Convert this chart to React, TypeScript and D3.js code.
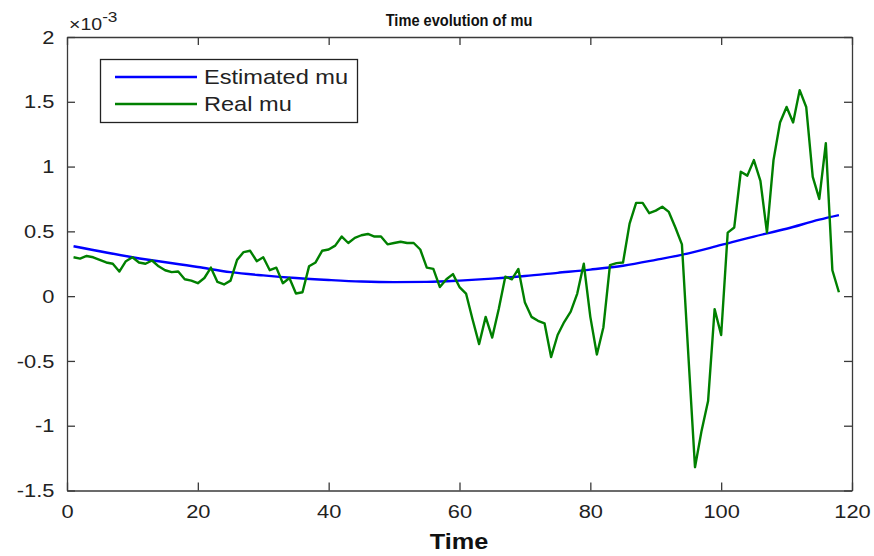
import * as d3 from 'd3'
import { FC, useRef, useEffect } from 'react'

// values are in units of 1e-3
const realMu: number[] = [
    0.30, 0.29, 0.31, 0.30, 0.28, 0.26, 0.25, 0.19, 0.27, 0.30,
    0.26, 0.25, 0.275, 0.23, 0.20, 0.185, 0.19, 0.13, 0.12, 0.10,
    0.14, 0.22, 0.11, 0.09, 0.12, 0.28, 0.34, 0.35, 0.27, 0.30,
    0.20, 0.22, 0.10, 0.14, 0.02, 0.03, 0.23, 0.26, 0.35, 0.36,
    0.39, 0.46, 0.41, 0.45, 0.47, 0.48, 0.46, 0.46, 0.40, 0.41,
    0.42, 0.41, 0.41, 0.36, 0.22, 0.21, 0.07, 0.13, 0.17, 0.07,
    0.02, -0.18, -0.37, -0.16, -0.32, -0.10, 0.15, 0.13, 0.21, -0.05,
    -0.16, -0.19, -0.21, -0.47, -0.30, -0.20, -0.12, 0.02, 0.25, -0.16,
    -0.45, -0.24, 0.24, 0.255, 0.26, 0.56, 0.72, 0.72, 0.64, 0.66,
    0.69, 0.65, 0.53, 0.40, -0.47, -1.32, -1.04, -0.81, -0.10, -0.30,
    0.49, 0.53, 0.96, 0.93, 1.05, 0.89, 0.49, 1.05, 1.34, 1.46,
    1.34, 1.59, 1.46, 0.92, 0.75, 1.18, 0.20, 0.03,
]

const estTime: number[] = [1, 10, 20, 25, 30, 35, 40, 45, 50, 55, 60, 65, 70, 75, 80, 85, 90, 95, 100, 105, 110, 115, 118]
const estMu: number[] = [0.385, 0.30, 0.225, 0.185, 0.16, 0.14, 0.125, 0.113, 0.108, 0.11, 0.12, 0.135, 0.155, 0.18, 0.205, 0.235, 0.28, 0.33, 0.395, 0.46, 0.52, 0.59, 0.625]

const xTicks: number[] = [0, 20, 40, 60, 80, 100, 120]
const yTicks: number[] = [-1.5, -1, -0.5, 0, 0.5, 1, 1.5, 2]
const legendLabels: string[] = ['Estimated mu', 'Real mu']

const FONT = '"Liberation Sans", Arial, Helvetica, sans-serif'
const STRETCH = 1.15

const App: FC = () => {
    const dimensions = { width: 874, height: 556 }
    const svgRef = useRef<SVGSVGElement>(null)

    useEffect(() => {
        const svg = d3.select(svgRef.current)
        svg.selectAll('*').remove()

        const x = d3.scaleLinear().domain([0, 120]).range([67, 852])
        const y = d3.scaleLinear().domain([-1.5, 2]).range([490.5, 37])
        const axisColor = '#3a3a3a'

        svg.append('rect')
            .attr('width', dimensions.width)
            .attr('height', dimensions.height)
            .attr('fill', '#fff')

        const styleAxis = (g: any, labels: boolean) => {
            g.select('.domain').attr('stroke', axisColor).attr('stroke-width', 1.3)
            g.selectAll('.tick line').attr('stroke', axisColor).attr('stroke-width', 1.3)
            g.selectAll('.tick text')
                .attr('fill', labels ? '#222' : 'none')
                .attr('font-family', FONT)
                .attr('font-size', 19)
        }

        // bottom
        const bottom = svg.append('g')
            .attr('transform', `translate(0,${y(-1.5)})`)
            .call(d3.axisBottom(x).tickValues(xTicks).tickSizeInner(-8).tickSizeOuter(0).tickPadding(14)
                .tickFormat(d3.format('d')))
        styleAxis(bottom, true)
        bottom.selectAll('.tick text').attr('transform', `scale(${STRETCH},1)`)

        // left
        const left = svg.append('g')
            .attr('transform', `translate(${x(0)},0)`)
            .call(d3.axisLeft(y).tickValues(yTicks).tickSizeInner(-8).tickSizeOuter(0).tickPadding(11)
                .tickFormat((d: any) => `${d}`))
        styleAxis(left, true)
        left.selectAll('.tick text').attr('transform', `scale(${STRETCH},1)`)

        // top and right, no labels
        const top = svg.append('g')
            .attr('transform', `translate(0,${y(2)})`)
            .call(d3.axisTop(x).tickValues(xTicks).tickSizeInner(-8).tickSizeOuter(0).tickFormat(() => ''))
        styleAxis(top, false)
        const right = svg.append('g')
            .attr('transform', `translate(${x(120)},0)`)
            .call(d3.axisRight(y).tickValues(yTicks).tickSizeInner(-8).tickSizeOuter(0).tickFormat(() => ''))
        styleAxis(right, false)

        // lines
        const estData = estTime.map((t, i) => [t, estMu[i]] as [number, number])
        const realData = realMu.map((v, i) => [i + 1, v] as [number, number])

        const smooth = d3.line<[number, number]>()
            .x(d => x(d[0]))
            .y(d => y(d[1]))
            .curve(d3.curveMonotoneX)
        const straight = d3.line<[number, number]>()
            .x(d => x(d[0]))
            .y(d => y(d[1]))

        svg.append('path')
            .attr('d', smooth(estData))
            .attr('fill', 'none')
            .attr('stroke', '#0000ff')
            .attr('stroke-width', 2.4)
        svg.append('path')
            .attr('d', straight(realData))
            .attr('fill', 'none')
            .attr('stroke', '#008000')
            .attr('stroke-width', 2.4)
            .attr('stroke-linejoin', 'round')

        // exponent label
        const expo = svg.append('text')
            .attr('transform', `translate(69,30) scale(${STRETCH},1)`)
            .attr('font-family', FONT)
            .attr('font-size', 17)
            .attr('fill', '#222')
        expo.append('tspan').text('\u00d710')
        expo.append('tspan').attr('dy', -8).attr('font-size', 15).text('-3')

        // title
        svg.append('text')
            .attr('transform', 'translate(459,26) scale(0.86,1)')
            .attr('text-anchor', 'middle')
            .attr('font-family', FONT)
            .attr('font-weight', 'bold')
            .attr('font-size', 17)
            .attr('fill', '#111')
            .text('Time evolution of mu')

        // x label
        svg.append('text')
            .attr('transform', `translate(459,549) scale(${STRETCH},1)`)
            .attr('text-anchor', 'middle')
            .attr('font-family', FONT)
            .attr('font-weight', 'bold')
            .attr('font-size', 22)
            .attr('fill', '#111')
            .text('Time')

        // legend
        const legend = svg.append('g')
        legend.append('rect')
            .attr('x', 100.5).attr('y', 59.5)
            .attr('width', 257).attr('height', 63)
            .attr('fill', '#fff')
            .attr('stroke', '#222')
            .attr('stroke-width', 1.3)
        const colors = ['#0000ff', '#008000']
        legendLabels.forEach((label, i) => {
            const ly = 77 + i * 27
            legend.append('line')
                .attr('x1', 115).attr('x2', 197)
                .attr('y1', ly).attr('y2', ly)
                .attr('stroke', colors[i])
                .attr('stroke-width', 2.4)
            legend.append('text')
                .attr('transform', `translate(204,${ly + 7}) scale(${STRETCH},1)`)
                .attr('font-family', FONT)
                .attr('font-size', 20.5)
                .attr('fill', '#222')
                .text(label)
        })
    }, [])

    return (
        <svg
            ref={svgRef}
            width={dimensions.width}
            height={dimensions.height}
            style={{ position: 'absolute', left: 0, top: 0 }}
        />
    )
}

export default App
